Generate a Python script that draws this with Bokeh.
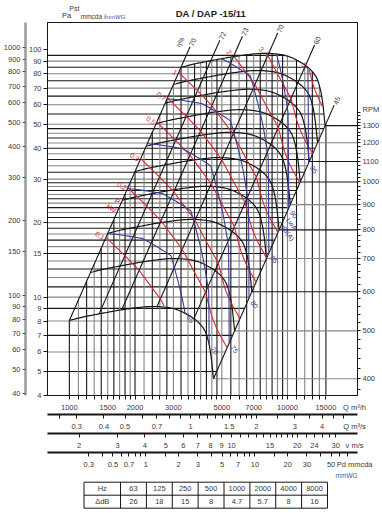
import numpy as np
from bokeh.plotting import figure
from bokeh.models import (Range1d, LogScale, LogAxis, FixedTicker, NumeralTickFormatter,
                          ColumnDataSource)
from bokeh.layouts import column
from bokeh.embed import file_html
from bokeh.resources import INLINE
from bokeh.core.properties import value

FONT = "Liberation Sans"
BLACK = "#161616"
GRAY = "#858585"
RED = "#d8262f"
BLUE = "#383c94"
TXT = "#3a3a3a"
WGBLUE = "#4a4fb0"

# ---------------- chart data ----------------
Q_RANGE = (794, 20940)          # m3/h, frame limits
P_RANGE = (4, 129)              # Pst mmcda, frame limits
RPM_PER_SQRT_P = 185            # RPM scale on the right: rpm = 185*sqrt(Pst)
DUCT_AREA = 0.154               # m2, for the v m/s scale
AIR_DENSITY = 1.2

RPM_TOP = 1300
RPM_CURVES = [400, 500, 600, 700, 800, 900, 1000, 1100, 1200, 1300]

# fan curve at 1300 rpm
TOP_Q = [3250, 3700, 4200, 4800, 5500, 6500, 7500, 8600, 9800, 11000, 12400, 13500, 14100, 14500, 14880]
TOP_P = [85, 87.5, 89.5, 91.5, 93.5, 95.5, 96.7, 96.5, 94.8, 91, 85, 78, 70, 61, 49.4]

# efficiency lines (where they cross the 1300 rpm curve)
ETA_TEXT = ["70", "72", "73", "70", "60", "45"]
ETA_Q = [3250, 4450, 5650, 8200, 12100, 14880]
ETA = [70, 72, 73, 70, 60, 45]

# absorbed power lines, kW
PWR_LEVELS = [0.1, 0.2, 0.3, 0.5, 0.7, 1, 2, 3, 5]
PWR_TEXT = ["0,1", "0,2", "0,3", "0,5", "0,7", "1", "2", "3", "5"]

# sound power on the 1300 rpm curve, dB(A)
LW_Q = [3250, 5000, 7500, 10500, 12400, 14880]
LW = [83.5, 85, 87.5, 92.4, 95, 99.2]
LW_LEVELS = [65, 70, 75, 80, 85, 90, 95]

RPM_LINES = [400, 500, 600, 700, 800, 900, 1000, 1100, 1200, 1300]

P_GRID = [5, 6, 7, 8, 9] + list(range(10, 30)) + list(range(30, 50, 2)) + list(range(50, 100, 5))
Q_GRID = (list(range(1000, 2000, 100)) + list(range(2000, 3000, 200)) + list(range(3000, 5000, 250))
          + list(range(5000, 10000, 500)) + list(range(10000, 15001, 1000)))

Q_TICKS = [1000, 1500, 2000, 3000, 5000, 7000, 10000, 15000]
QS_TICKS = [0.3, 0.4, 0.5, 0.7, 1, 1.5, 2, 3, 4]
QS_MINOR = [0.25, 0.6, 0.8, 0.9, 1.1, 1.2, 1.3, 1.4, 1.6, 1.7, 1.8, 1.9, 2.5, 3.5, 4.5, 5]
V_TICKS = [2, 3, 4, 5, 6, 7, 8, 9, 10, 15, 20, 24, 30]
V_MINOR = [11, 12, 13, 14, 16, 17, 18, 19, 22, 26, 28]
PD_TICKS = [0.3, 0.5, 0.7, 1, 2, 3, 5, 7, 10, 20, 30, 50]
PD_MINOR = [0.4, 0.6, 0.8, 0.9, 1.5, 4, 6, 8, 9, 15, 40, 60, 70]
PST_TICKS = [4, 5, 6, 7, 8, 9, 10, 15, 20, 30, 40, 50, 60, 70, 80, 90, 100]
PA_TICKS = [40, 50, 60, 70, 80, 90, 100, 150, 200, 300, 400, 500, 600, 700, 800, 900, 1000]
RPM_TICKS = [400, 500, 600, 700, 800, 900, 1000, 1100, 1200, 1300]
RPM_MINOR = [r for r in range(380, 1400, 20)]

HZ = ["63", "125", "250", "500", "1000", "2000", "4000", "8000"]
DDB = ["26", "18", "15", "8", "4.7", "5.7", "8", "16"]

# ---------------- helpers ----------------
nan = np.nan
S_MIN = RPM_CURVES[0] / RPM_TOP


def smooth(xs, ys, n=12):
    pts = np.column_stack([xs, ys])
    P = np.vstack([2 * pts[0] - pts[1], pts, 2 * pts[-1] - pts[-2]])
    out = []
    for i in range(1, len(P) - 2):
        p0, p1, p2, p3 = P[i - 1], P[i], P[i + 1], P[i + 2]
        for t in np.linspace(0, 1, n, endpoint=False):
            t2, t3 = t * t, t * t * t
            out.append(0.5 * (2 * p1 + (-p0 + p2) * t + (2 * p0 - 5 * p1 + 4 * p2 - p3) * t2
                              + (-p0 + 3 * p1 - 3 * p2 + p3) * t3))
    out.append(pts[-1])
    return np.array(out)


sm = smooth(np.log10(TOP_Q), np.log10(TOP_P))
BQ = 10 ** sm[:, 0]
BP = 10 ** sm[:, 1]
kL = TOP_P[0] / TOP_Q[0] ** 2
kR = TOP_P[-1] / TOP_Q[-1] ** 2

logBQm = np.log10(np.maximum.accumulate(BQ))
logBP = np.log10(BP)


def upper(q):
    if q <= TOP_Q[0]:
        return kL * q * q
    if q >= TOP_Q[-1]:
        return kR * q * q
    return 10 ** np.interp(np.log10(q), logBQm, logBP)


ipk = int(np.argmax(BP))
dq = BQ[ipk:][::-1]
dp = np.minimum.accumulate(BP[ipk:])[::-1]


def right_q(pp):
    if pp <= TOP_P[-1]:
        return np.sqrt(pp / kR)
    return 10 ** np.interp(np.log10(pp), np.log10(dp), np.log10(dq))


# reference-pixel helpers used only to place free text inside the frame
def qx(px):
    return 1000 * 10 ** ((px - 67.7) / 219)


def py(pix):
    return 4 * 10 ** ((396 - pix) / 248)


# ---------------- header strip ----------------
W = 382
h = figure(width=W, height=22, x_range=Range1d(0, W), y_range=Range1d(22, 0),
           output_backend="svg", toolbar_location=None, x_axis_location=None, y_axis_location=None,
           min_border_left=0, min_border_right=0, min_border_top=0, min_border_bottom=0)
h.xgrid.visible = False
h.ygrid.visible = False
h.outline_line_color = None
h.text(x=[33], y=[8], text=["Pst"], text_font=value(FONT), text_font_size="7px", text_color=TXT,
       text_align="center", text_baseline="middle")
h.text(x=[23.5], y=[15], text=["Pa"], text_font=value(FONT), text_font_size="7.5px", text_color=TXT,
       text_align="center", text_baseline="middle")
h.text(x=[41], y=[16], text=["mmcda /"], text_font=value(FONT), text_font_size="6.5px", text_color=TXT,
       text_align="left", text_baseline="middle")
h.text(x=[71], y=[16], text=["mmWG"], text_font=value(FONT), text_font_size="6px", text_color=WGBLUE,
       text_align="left", text_baseline="middle")
h.text(x=[201.5], y=[12.5], text=["DA / DAP -15/11"], text_font=value(FONT), text_font_size="9.5px",
       text_font_style="bold", text_color="#222222", text_align="center", text_baseline="middle")

# ---------------- main figure ----------------
MAIN_H = 449
p = figure(width=W, height=MAIN_H, x_axis_type="log", y_axis_type="log",
           x_range=Range1d(*Q_RANGE), y_range=Range1d(*P_RANGE),
           output_backend="svg", toolbar_location=None,
           min_border_left=46, min_border_right=25, min_border_top=0, min_border_bottom=0)
p.xgrid.visible = False
p.ygrid.visible = False
p.outline_line_color = BLACK
p.outline_line_alpha = 1
p.background_fill_color = "white"
p.border_fill_color = "white"

qs_rng = (Q_RANGE[0] / 3600, Q_RANGE[1] / 3600)
v_rng = (qs_rng[0] / DUCT_AREA, qs_rng[1] / DUCT_AREA)
pd_rng = tuple(AIR_DENSITY * v * v / (2 * 9.81) for v in v_rng)
p.extra_x_ranges = {"qs": Range1d(*qs_rng), "v": Range1d(*v_rng), "pd": Range1d(*pd_rng)}
p.extra_x_scales = {"qs": LogScale(), "v": LogScale(), "pd": LogScale()}
p.extra_y_ranges = {"pa": Range1d(P_RANGE[0] * 9.81, P_RANGE[1] * 9.81),
                    "rpm": Range1d(float(RPM_PER_SQRT_P * np.sqrt(P_RANGE[0])),
                                   float(RPM_PER_SQRT_P * np.sqrt(P_RANGE[1])))}
p.extra_y_scales = {"pa": LogScale(), "rpm": LogScale()}


def style(ax, tick=4, minor=0, standoff=2, line_w=1, line_c=BLACK):
    ax.major_label_text_font = FONT
    ax.major_label_text_font_size = "7.5px"
    ax.major_label_text_color = TXT
    ax.major_tick_out = tick
    ax.major_tick_in = 0
    ax.minor_tick_out = minor
    ax.minor_tick_in = 0
    ax.major_label_standoff = standoff
    ax.axis_line_width = line_w
    ax.axis_line_color = line_c
    ax.major_tick_line_color = BLACK
    ax.minor_tick_line_color = BLACK


# name of each bottom scale sits on an extra labelled tick at the right end
Q_NAME_AT = 20300

xa = p.xaxis[0]
xa.ticker = FixedTicker(ticks=Q_TICKS + [Q_NAME_AT], minor_ticks=Q_GRID)
xa.formatter = NumeralTickFormatter(format="0")
xa.major_label_overrides = {Q_NAME_AT: "Q m³/h"}
style(xa, tick=0, minor=4, standoff=3)

bottom_axes = [
    ("qs", QS_TICKS, QS_MINOR, Q_NAME_AT / 3600, "Q m³/s"),
    ("v", V_TICKS, V_MINOR, Q_NAME_AT / 3600 / DUCT_AREA, "v m/s"),
    ("pd", PD_TICKS, PD_MINOR, AIR_DENSITY * (Q_NAME_AT / 3600 / DUCT_AREA) ** 2 / (2 * 9.81), "Pd mmcda"),
]
for name, tk, mn, at, nm in bottom_axes:
    ax = LogAxis(x_range_name=name, ticker=FixedTicker(ticks=tk + [at], minor_ticks=tk + mn),
                 formatter=NumeralTickFormatter(format="0.[0]"))
    ax.major_label_overrides = {at: nm}
    style(ax, tick=0, minor=4, standoff=3, line_w=2)
    p.add_layout(ax, "below")

ya = p.yaxis[0]
ya.ticker = FixedTicker(ticks=PST_TICKS)
ya.formatter = NumeralTickFormatter(format="0")
style(ya, tick=4, standoff=2)

pa_ax = LogAxis(y_range_name="pa", ticker=FixedTicker(ticks=PA_TICKS),
                formatter=NumeralTickFormatter(format="0"))
style(pa_ax, tick=3, standoff=2, line_w=2.5, line_c="#9a9a9a")
pa_ax.major_tick_line_color = "#555555"
p.add_layout(pa_ax, "left")

RPM_NAME_AT = 1400
rpm_ax = LogAxis(y_range_name="rpm", ticker=FixedTicker(ticks=RPM_TICKS + [RPM_NAME_AT], minor_ticks=RPM_MINOR),
                 formatter=NumeralTickFormatter(format="0"))
rpm_ax.major_label_overrides = {RPM_NAME_AT: "RPM"}
style(rpm_ax, tick=0, minor=3, standoff=2)
p.add_layout(rpm_ax, "right")

# ---- grid: horizontal pressure lines ----
hx, hy, hc = [], [], []
for i, pp in enumerate(P_GRID):
    hx.append([Q_RANGE[0], right_q(pp)])
    hy.append([pp, pp])
    hc.append(BLACK if i % 2 == 0 else GRAY)
# ---- grid: vertical flow lines ----
for i, q in enumerate(Q_GRID):
    hx.append([q, q])
    hy.append([P_RANGE[0], upper(q)])
    hc.append(BLACK if i % 2 == 0 else GRAY)
# ---- rpm lines from the right axis ----
for r in RPM_LINES:
    pp = (r / RPM_PER_SQRT_P) ** 2
    hx.append([np.sqrt(pp / kR), Q_RANGE[1]])
    hy.append([pp, pp])
    hc.append(BLACK if r in (600, 800, 1000, 1100, 1300) else GRAY)
p.multi_line(xs="xs", ys="ys", line_color="c", line_width=1.1,
             source=ColumnDataSource(dict(xs=hx, ys=hy, c=hc)))

# ---- fan curves ----
fx, fy = [], []
for r in RPM_CURVES:
    s = r / RPM_TOP
    fx.append(list(BQ * s))
    fy.append(list(BP * s * s))
p.multi_line(xs=fx, ys=fy, line_color=BLACK, line_width=1.2)

# ---- efficiency lines ----
EXT = 1.1
ex, ey, lx, ly = [], [], [], []
for q in ETA_Q:
    pt = upper(q)
    ex.append([q * S_MIN, q * EXT])
    ey.append([pt * S_MIN ** 2, pt * EXT ** 2])
    lx.append(q * EXT)
    ly.append(pt * EXT ** 2)
p.multi_line(xs=ex, ys=ey, line_color=BLACK, line_width=1.1)
p.text(x=lx, y=ly, text=ETA_TEXT, text_font=value(FONT), text_font_size="7px", text_color=TXT,
       angle=1.15, text_align="left", text_baseline="middle", x_offset=1, y_offset=-1)
p.text(x=[lx[0]], y=[ly[0]], text=["η%"], text_font=value(FONT), text_font_size="7px", text_color=TXT,
       angle=1.15, text_align="left", text_baseline="middle", x_offset=-12, y_offset=0)

# ---- power (red) and noise (blue) lines ----
logQt = np.log10(BQ)
eta_t = np.interp(logQt, np.log10(ETA_Q), ETA) / 100.0
P_t = BQ / 3600 * BP * 9.81 / eta_t / 1000
LW_t = np.interp(logQt, np.log10(LW_Q), LW)

rx, ry = [], []
rl_left = ([], [], [])
rl_top = ([], [], [])
for P0, txt in zip(PWR_LEVELS, PWR_TEXT):
    n = RPM_TOP * (P0 / P_t) ** (1 / 3)
    ok = (n >= RPM_CURVES[0] - 1e-9) & (n <= RPM_TOP + 1e-9)
    s = n / RPM_TOP
    xs = np.where(ok, BQ * s, nan)
    ys = np.where(ok, BP * s * s, nan)
    rx.append(list(xs))
    ry.append(list(ys))
    i0 = int(np.argmax(ok))
    tgt = rl_left if i0 == 0 else rl_top
    tgt[0].append(xs[i0]); tgt[1].append(ys[i0]); tgt[2].append(txt)
p.multi_line(xs=rx, ys=ry, line_color=RED, line_width=1.1)
p.text(x=rl_left[0], y=rl_left[1], text=rl_left[2], text_font=value(FONT), text_font_size="7px",
       text_color=RED, angle=-0.6, text_align="right", text_baseline="middle", x_offset=-2, y_offset=1)
p.text(x=rl_top[0], y=rl_top[1], text=rl_top[2], text_font=value(FONT), text_font_size="7px",
       text_color=RED, angle=-0.9, text_align="right", text_baseline="middle", x_offset=-4, y_offset=-3)
p.text(x=[qx(116), qx(110)], y=[py(201), py(208)], text=["P", "kW"], text_font=value(FONT),
       text_font_size="7px", text_color=RED, angle=-0.6, text_align="center", text_baseline="middle")

bx, by = [], []
bl = ([], [], [])
for L0 in LW_LEVELS:
    n = RPM_TOP * 10 ** ((L0 - LW_t) / 55.0)
    ok = (n >= RPM_CURVES[0] - 1e-9) & (n <= RPM_TOP + 1e-9)
    s = n / RPM_TOP
    xs = np.where(ok, BQ * s, nan)
    ys = np.where(ok, BP * s * s, nan)
    bx.append(list(xs))
    by.append(list(ys))
    if ok.any():
        i1 = len(ok) - 1 - int(np.argmax(ok[::-1]))
        bl[0].append(xs[i1]); bl[1].append(ys[i1]); bl[2].append(str(L0))
p.multi_line(xs=bx, ys=by, line_color=BLUE, line_width=1.1)
p.text(x=bl[0], y=bl[1], text=bl[2], text_font=value(FONT), text_font_size="7px", text_color=BLUE,
       angle=-0.95, text_align="left", text_baseline="middle", x_offset=3, y_offset=3)
p.text(x=[qx(291), qx(287)], y=[py(224), py(233)], text=["LwA", "dB(A)"], text_font=value(FONT),
       text_font_size="7px", text_color=BLUE, angle=-0.95, text_align="center", text_baseline="middle")

# ---------------- octave table strip ----------------
T_TOP = 22 + MAIN_H
T_H = 513 - T_TOP
TBL_LEFT, TBL_FIRST, TBL_RIGHT = 45, 90, 345
ROW_TOP, ROW_MID, ROW_BOT = 481.7, 494.7, 507.7

t = figure(width=W, height=T_H, x_range=Range1d(0, W), y_range=Range1d(513, T_TOP),
           output_backend="svg", toolbar_location=None, x_axis_location=None, y_axis_location=None,
           min_border_left=0, min_border_right=0, min_border_top=0, min_border_bottom=0)
t.xgrid.visible = False
t.ygrid.visible = False
t.outline_line_color = None
col_w = (TBL_RIGHT - TBL_FIRST) / len(HZ)
edges = [TBL_LEFT, TBL_FIRST] + [TBL_FIRST + col_w * (i + 1) for i in range(len(HZ))]
t.segment(x0=edges, y0=[ROW_TOP] * len(edges), x1=edges, y1=[ROW_BOT] * len(edges),
          line_color=BLACK, line_width=1)
t.segment(x0=[TBL_LEFT] * 3, y0=[ROW_TOP, ROW_MID, ROW_BOT], x1=[TBL_RIGHT] * 3,
          y1=[ROW_TOP, ROW_MID, ROW_BOT], line_color=BLACK, line_width=1)
cx = [(edges[i] + edges[i + 1]) / 2 for i in range(len(edges) - 1)]
t.text(x=cx, y=[(ROW_TOP + ROW_MID) / 2] * len(cx), text=["Hz"] + HZ, text_font=value(FONT),
       text_font_size="7.5px", text_color=TXT, text_align="center", text_baseline="middle")
t.text(x=cx, y=[(ROW_MID + ROW_BOT) / 2] * len(cx), text=["ΔdB"] + DDB, text_font=value(FONT),
       text_font_size="7.5px", text_color=TXT, text_align="center", text_baseline="middle")
t.text(x=[355], y=[T_TOP + 3.5], text=["mmWG"], text_font=value(FONT), text_font_size="6.5px",
       text_color=WGBLUE, text_align="left", text_baseline="middle")

layout = column(h, p, t)
open("out.html", "w").write(file_html(layout, INLINE))
